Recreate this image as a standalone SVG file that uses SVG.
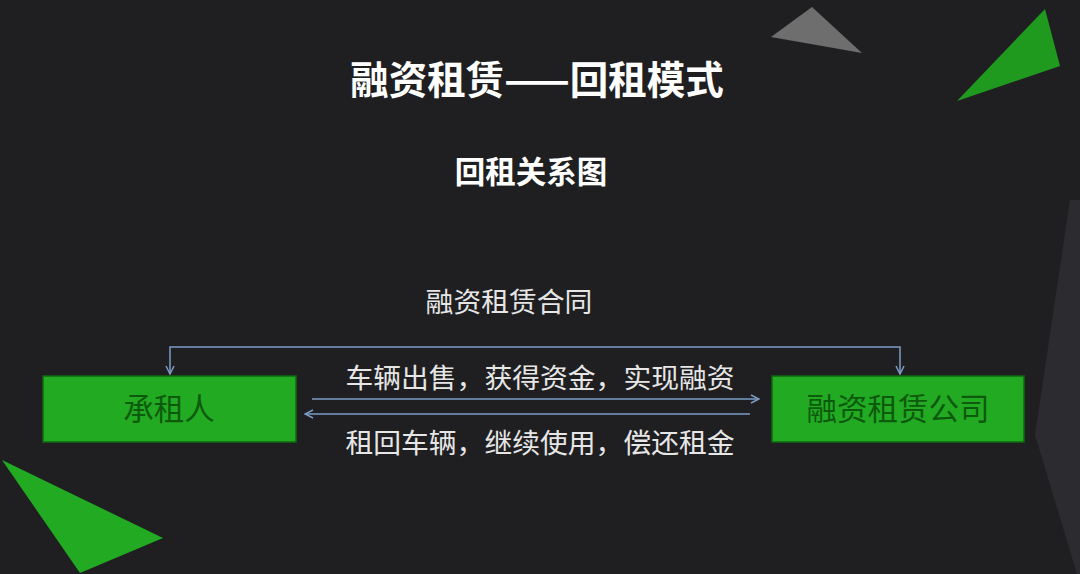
<svg xmlns="http://www.w3.org/2000/svg" width="1080" height="574" viewBox="0 0 1080 574">
<defs>
<style>
.t{font-family:"Noto Sans CJK SC","Noto Sans",sans-serif;}
.title{font-size:38.5px;font-weight:bold;fill:#ffffff;}
.sub{font-size:30.5px;font-weight:bold;fill:#ffffff;}
.lbl{font-size:27.8px;fill:#e6e6e6;}
.box{fill:#22aa22;stroke:#0f6a0f;stroke-width:1.5;}
.btxt{font-size:30.5px;fill:#0d5a0d;}
.ln{fill:none;stroke:#7d9cc6;stroke-width:1.5;}
</style>
<marker id="ah" viewBox="0 0 10 10" refX="9" refY="5" markerWidth="10" markerHeight="10" markerUnits="userSpaceOnUse" orient="auto">
<path d="M1,1 L9,5 L1,9" fill="none" stroke="#7d9cc6" stroke-width="1.5"/>
</marker>
</defs>
<rect width="1080" height="574" fill="#1f1f21"/>
<polygon points="1070,200 1080,200 1080,574 1077,574 1035,435" fill="#2c2c30"/>
<polygon points="812,7 771,37 862,53" fill="#6e6e6e"/>
<polygon points="1045,9 1060,66 957,101" fill="#1f9a1f"/>
<polygon points="2,460 163,538 80,573" fill="#22aa22"/>
<text class="t title" x="537" y="94" text-anchor="middle">融资租赁——回租模式</text>
<text class="t sub" x="531" y="183" text-anchor="middle">回租关系图</text>
<text class="t lbl" x="509" y="312" text-anchor="middle">融资租赁合同</text>
<g id="connectors">
<path class="ln" d="M535,347 L170,347 L170,374" marker-end="url(#ah)"/>
<path class="ln" d="M535,347 L900,347 L900,374" marker-end="url(#ah)"/>
<line class="ln" x1="312" y1="399" x2="759" y2="399" marker-end="url(#ah)"/>
<line class="ln" x1="750" y1="414" x2="305" y2="414" marker-end="url(#ah)"/>
</g>
<text class="t lbl" x="540" y="388" text-anchor="middle">车辆出售，获得资金，实现融资</text>
<text class="t lbl" x="540" y="453" text-anchor="middle">租回车辆，继续使用，偿还租金</text>
<g id="lessee">
<rect class="box" x="43" y="376" width="253" height="66"/>
<text class="t btxt" x="169" y="420" text-anchor="middle">承租人</text>
</g>
<g id="lessor">
<rect class="box" x="772" y="376" width="252" height="66"/>
<text class="t btxt" x="898" y="420" text-anchor="middle">融资租赁公司</text>
</g>
</svg>
